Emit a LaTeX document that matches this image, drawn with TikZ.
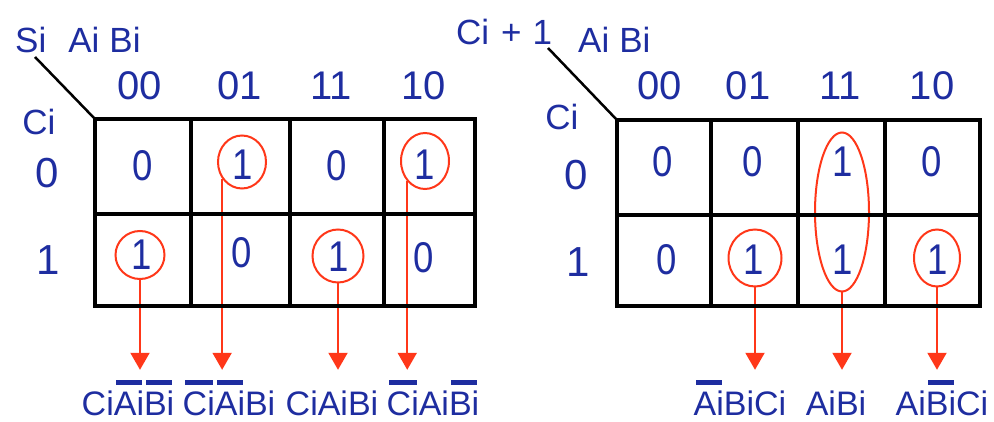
\documentclass[tikz,border=0pt]{standalone}
\usepackage{fontspec}
\setmainfont{Liberation Sans}
\newfontfamily\cellfont[FakeStretch=0.85]{Liberation Sans}
\usetikzlibrary{shapes.geometric,arrows.meta}
\definecolor{kblue}{RGB}{30,45,160}
\definecolor{kred}{RGB}{255,55,25}
% complemented variable: thick bar over the letters
\newcommand{\ovl}[1]{\setbox0=\hbox{#1}\rlap{\kern0.06em\raisebox{0.87em}{\rule{\dimexpr\wd0-0.12em\relax}{0.15em}}}\box0}
\begin{document}
\begin{tikzpicture}[x=1pt,y=-1pt,
  txt/.style={text=kblue,inner sep=0pt,anchor=base},
  cellnum/.style={txt,font=\cellfont\fontsize{43}{43}\selectfont},
  headnum/.style={txt,font=\fontsize{40}{40}\selectfont},
  sidenum/.style={txt,font=\fontsize{42}{42}\selectfont},
  varlab/.style={txt,font=\fontsize{35}{35}\selectfont},
  termlab/.style={text=kblue,anchor=base,font=\fontsize{34}{34}\selectfont,
    inner xsep=0pt,inner ysep=10pt,text height=35pt,text depth=0pt},
  group/.style={ellipse,draw=kred,line width=2pt,inner sep=0pt},
  pick/.style={draw=kred,line width=2pt,-{Triangle[width=19pt,length=17pt]}},
  kmap/.style={draw=black,line width=4.5pt},
  slash/.style={draw=black,line width=2.5pt}]
\useasboundingbox (0,0) rectangle (994,422);

% ---------------- left map: sum Si ----------------
\node[varlab,anchor=base west] (lvars) at (15,53) {Si\kern22pt Ai\kern10pt Bi};
\node[headnum] (lh00) at (140,100) {00};
\node[headnum] (lh01) at (240,100) {01};
\node[headnum] (lh11) at (331,100) {11};
\node[headnum] (lh10) at (424,100) {10};
\node[varlab] (lci) at (39,135) {Ci};
\node[sidenum] (lr0) at (47,188) {0};
\node[sidenum] (lr1) at (48,275) {1};

% groups of ones
\node[group,minimum width=48pt,minimum height=53pt] (lg01) at (242,162) {};
\node[group,minimum width=48pt,minimum height=56pt] (lg03) at (425,161) {};
\node[group,minimum width=49pt,minimum height=48pt] (lg10) at (140,255) {};
\node[group,minimum width=51pt,minimum height=53pt] (lg12) at (338,256) {};

% product terms
\node[termlab] (lt1) at (128,415) {Ci\ovl{Ai}\ovl{Bi}};
\node[termlab] (lt2) at (229,415) {\ovl{Ci}\ovl{Ai}Bi};
\node[termlab] (lt3) at (332,415) {CiAiBi};
\node[termlab] (lt4) at (433,415) {\ovl{Ci}Ai\ovl{Bi}};

\draw[pick] (lg10.south) -- (lg10.south |- lt1.north);
\draw[pick] (lg01.220) -- (lg01.220 |- lt2.north);
\draw[pick] (lg12.south) -- (lg12.south |- lt3.north);
\draw[pick] (lg03.229) -- (lg03.229 |- lt4.north);

% grid
\draw[kmap] (95,119) rectangle (475,306);
\draw[kmap] (95,214) -- (475,214)
  (191,119) -- (191,306) (290,119) -- (290,306) (384,119) -- (384,306);
\draw[slash] (35,57) -- (95,119);

% cell values
\node[cellnum] (l00) at (143,181) {0};
\node[cellnum] (l01) at (243,180) {1};
\node[cellnum] (l02) at (337,181) {0};
\node[cellnum] (l03) at (425,180) {1};
\node[cellnum] (l10) at (142,270) {1};
\node[cellnum] (l11) at (242,268) {0};
\node[cellnum] (l12) at (339,272) {1};
\node[cellnum] (l13) at (424,273) {0};

% ---------------- right map: carry Ci+1 ----------------
\node[varlab,anchor=base west] (rcout) at (456,45) {Ci\kern12pt+\kern11pt1};
\node[varlab,anchor=base west] (rvars) at (578,53) {Ai\kern10pt Bi};
\node[headnum] (rh00) at (660,100) {00};
\node[headnum] (rh01) at (748,100) {01};
\node[headnum] (rh11) at (840,100) {11};
\node[headnum] (rh10) at (932,100) {10};
\node[varlab] (rci) at (562,130) {Ci};
\node[sidenum] (rr0) at (576,190) {0};
\node[sidenum] (rr1) at (578,277) {1};

\node[group,minimum width=53pt,minimum height=57pt] (rg11) at (755,258) {};
\node[group,minimum width=54pt,minimum height=159pt] (rg2) at (842,212) {};
\node[group,minimum width=46pt,minimum height=57pt] (rg13) at (937,258) {};

\node[termlab] (rt1) at (740,415) {\ovl{Ai}BiCi};
\node[termlab] (rt2) at (836,415) {AiBi};
\node[termlab] (rt3) at (942,415) {Ai\ovl{Bi}Ci};

\draw[pick] (rg11.south) -- (rg11.south |- rt1.north);
\draw[pick] (rg2.south) -- (rg2.south |- rt2.north);
\draw[pick] (rg13.south) -- (rg13.south |- rt3.north);

\draw[kmap] (617,120) rectangle (980,306);
\draw[kmap] (617,215) -- (980,215)
  (711,120) -- (711,306) (798,120) -- (798,306) (885,120) -- (885,306);
\draw[slash] (548,48) -- (617,120);

\node[cellnum] (r00) at (663,177) {0};
\node[cellnum] (r01) at (753,177) {0};
\node[cellnum] (r02) at (843,177) {1};
\node[cellnum] (r03) at (932,177) {0};
\node[cellnum] (r10) at (667,275) {0};
\node[cellnum] (r11) at (754,275) {1};
\node[cellnum] (r12) at (843,275) {1};
\node[cellnum] (r13) at (938,275) {1};
\end{tikzpicture}
\end{document}
